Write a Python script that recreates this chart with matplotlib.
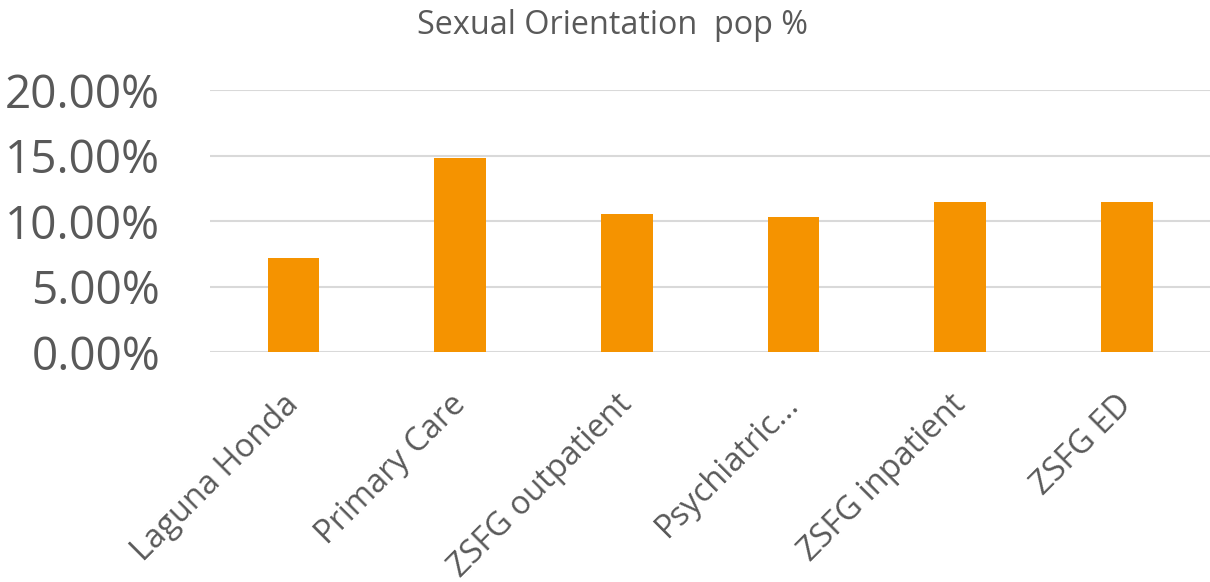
import numpy as np
import matplotlib.pyplot as plt
import matplotlib.ticker as mticker
import matplotlib.transforms as mtransforms

plt.rcParams['font.family'] = ['Open Sans', 'DejaVu Sans']

# Data
categories = ["Laguna Honda", "Primary Care", "ZSFG outpatient",
              "Psychiatric...", "ZSFG inpatient", "ZSFG ED"]
pop_pct = [7.22, 14.8, 10.51, 10.28, 11.5, 11.45]
y_ticks = [0, 5, 10, 15, 20]

fig = plt.figure(figsize=(12.1, 5.82), dpi=100)
ax = fig.add_axes([0.1736, 0.395, 0.8264, 0.45])

x = np.arange(len(categories))
ax.bar(x, pop_pct, width=0.31, color='#F59300', zorder=2)

ax.set_xlim(-0.5, len(categories) - 0.5)
ax.set_ylim(0, 20)
ax.set_yticks(y_ticks)
ax.yaxis.set_major_formatter(mticker.FuncFormatter(lambda v, p: f"{v:.2f}%"))
ax.grid(axis='y', color='#d9d9d9', linewidth=1.5, zorder=0)

for s in ax.spines.values():
    s.set_visible(False)
ax.tick_params(axis='both', length=0)
ax.tick_params(axis='y', labelsize=33, labelcolor='#595959', pad=36)
ax.set_xticks(x)
ax.set_xticklabels(categories, rotation=45, ha='right', rotation_mode='anchor',
                   fontsize=23.5, color='#595959')
ax.tick_params(axis='x', pad=26)

# nudge x labels a bit to the left
shift = mtransforms.ScaledTranslation(-0.11, 0, fig.dpi_scale_trans)
for lbl in ax.get_xticklabels():
    lbl.set_transform(lbl.get_transform() + shift)

fig.suptitle("Sexual Orientation  pop %", x=0.506, y=0.985, fontsize=23.3, color='#595959')

plt.savefig("out.png", dpi=100)
